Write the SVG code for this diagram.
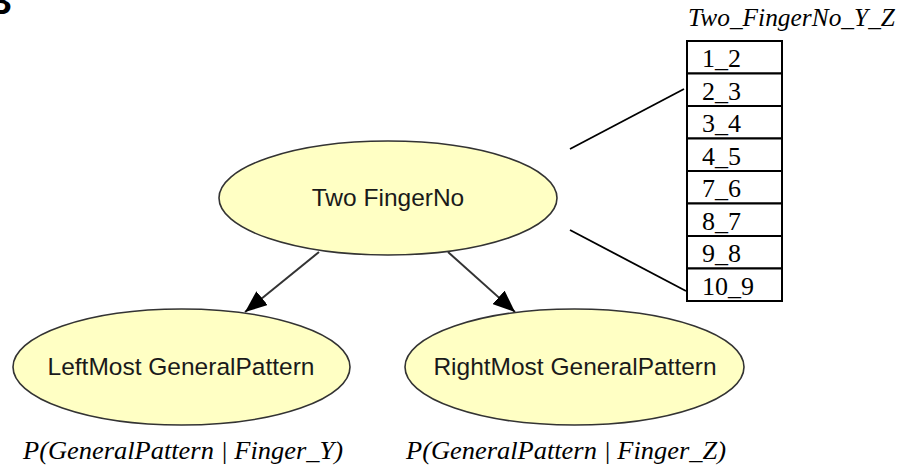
<svg xmlns="http://www.w3.org/2000/svg" width="899" height="469" viewBox="0 0 899 469">
  <style>
    .node ellipse { fill: #ffffc4; stroke: #333333; stroke-width: 1.6; }
    .node text { font-family: "Liberation Sans", Arial, sans-serif; font-size: 24.5px; fill: #1a1a1a; text-anchor: middle; }
    .edge { stroke: #333333; stroke-width: 2; fill: none; }
    .link { stroke: #000000; stroke-width: 1.8; fill: none; }
    .cell { fill: #ffffff; stroke: #000000; stroke-width: 2; }
    .cell-text { font-family: "Liberation Serif", "Times New Roman", serif; font-size: 26px; fill: #000000; }
    .caption { font-family: "Liberation Serif", "Times New Roman", serif; font-style: italic; font-size: 26px; fill: #000000; }
  </style>
  <defs>
    <marker id="arrow" markerUnits="userSpaceOnUse" markerWidth="24" markerHeight="18" refX="22" refY="9" orient="auto">
      <path d="M0,0 L22,9 L0,18 Z" fill="#000000"/>
    </marker>
  </defs>

  <rect width="899" height="469" fill="#ffffff"/>

  <!-- panel letter, cut by the top edge -->
  <text x="12" y="13.5" text-anchor="end" font-family="Liberation Sans, Arial, sans-serif" font-weight="bold" font-size="36" fill="#000000">B</text>

  <!-- connectors -->
  <g id="connectors">
    <line class="edge" x1="319" y1="252" x2="245" y2="312" marker-end="url(#arrow)"/>
    <line class="edge" x1="448" y1="252" x2="515" y2="312" marker-end="url(#arrow)"/>
    <line class="link" x1="570" y1="149" x2="684" y2="89"/>
    <line class="link" x1="570" y1="230" x2="686" y2="291"/>
  </g>

  <g id="two-fingerno" class="node">
    <ellipse cx="388" cy="198" rx="169" ry="57"/>
    <text x="388" y="206">Two FingerNo</text>
  </g>

  <g id="leftmost-generalpattern" class="node">
    <ellipse cx="181.5" cy="367" rx="168.5" ry="58"/>
    <text x="181" y="375">LeftMost GeneralPattern</text>
  </g>

  <g id="rightmost-generalpattern" class="node">
    <ellipse cx="574.5" cy="367" rx="169.5" ry="58"/>
    <text x="575" y="375">RightMost GeneralPattern</text>
  </g>

  <!-- state table of Two FingerNo -->
  <g id="state-table">
    <text class="caption" x="688" y="26" textLength="207" lengthAdjust="spacingAndGlyphs">Two_FingerNo_Y_Z</text>
    <rect class="cell" x="687" y="41" width="95" height="32.5"/>
    <rect class="cell" x="687" y="73.5" width="95" height="32.5"/>
    <rect class="cell" x="687" y="106" width="95" height="32.5"/>
    <rect class="cell" x="687" y="138.5" width="95" height="32.5"/>
    <rect class="cell" x="687" y="171" width="95" height="32.5"/>
    <rect class="cell" x="687" y="203.5" width="95" height="32.5"/>
    <rect class="cell" x="687" y="236" width="95" height="32.5"/>
    <rect class="cell" x="687" y="268.5" width="95" height="32.5"/>
    <text class="cell-text" x="702" y="67">1_2</text>
    <text class="cell-text" x="702" y="99.5">2_3</text>
    <text class="cell-text" x="702" y="132">3_4</text>
    <text class="cell-text" x="702" y="164.5">4_5</text>
    <text class="cell-text" x="702" y="197">7_6</text>
    <text class="cell-text" x="702" y="229.5">8_7</text>
    <text class="cell-text" x="702" y="262">9_8</text>
    <text class="cell-text" x="702" y="294.5">10_9</text>
  </g>

  <!-- conditional probability captions -->
  <text class="caption" x="23" y="459" textLength="320" lengthAdjust="spacingAndGlyphs">P(GeneralPattern | Finger_Y)</text>
  <text class="caption" x="406" y="459" textLength="320" lengthAdjust="spacingAndGlyphs">P(GeneralPattern | Finger_Z)</text>
</svg>
